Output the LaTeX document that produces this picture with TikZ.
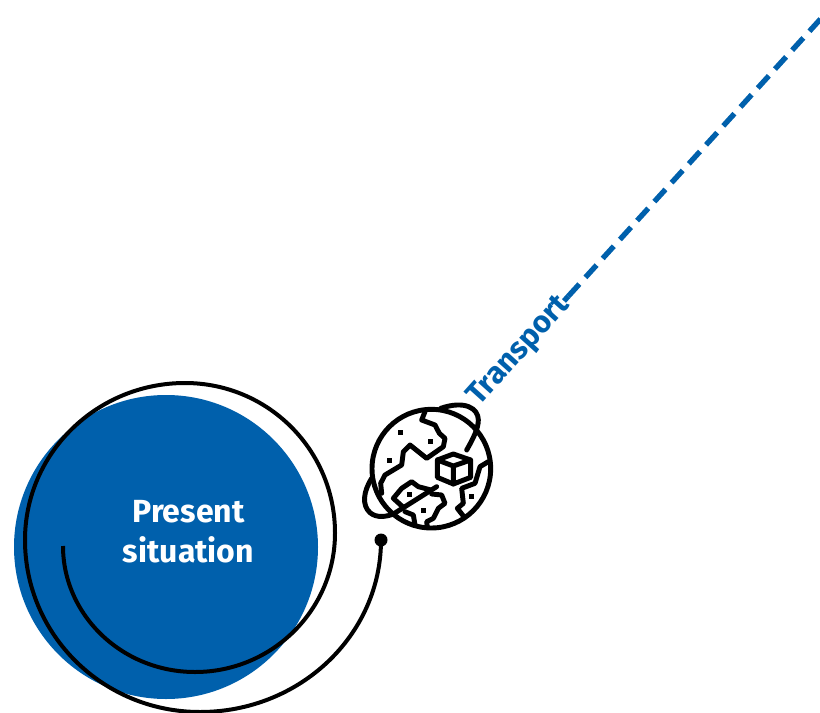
\documentclass[tikz,border=0pt]{standalone}
\usepackage{fontspec}
\setmainfont{Fira Sans}
\definecolor{brandblue}{HTML}{0060AC}
\tikzset{
  px/.style={x=0.75pt,y=-0.75pt},
  ink/.style={draw=black,line width=3.7pt,line join=round,line cap=round},
  speck/.style={fill=black,draw=none},
  dashline/.style={draw=brandblue,line width=4pt,dash pattern=on 12.4pt off 6.8pt},
  stubline/.style={draw=brandblue,line width=4pt},
  whitelabel/.style={text=white,font=\bfseries\fontsize{24}{30}\selectfont,align=center},
  bluelabel/.style={text=brandblue,font=\bfseries\fontsize{23}{25}\selectfont}
}
\begin{document}
\begin{tikzpicture}[px]
\useasboundingbox (0,0) rectangle (820,713);
\fill[brandblue] (166,547) circle [radius=152];
\node[whitelabel] (present) at (188.5,532) {Present\\situation};
% spiral
\coordinate (spiralstart) at (63,546);
\coordinate (bullet) at (381,540);
\draw[draw=black,line width=3pt]
  (spiralstart) .. controls (63,615) and (122,672) .. (195,672)
  .. controls (272,672) and (335,610) .. (335,533)
  .. controls (335,450) and (268,383) .. (185,383)
  .. controls (97,383) and (25,453) .. (25,540)
  .. controls (25,635) and (103,712) .. (200,712)
  .. controls (300,712) and (381,635) .. (bullet);
\fill[black] (bullet) circle [radius=6.5];
% dashed route and label
\coordinate (routestub) at (564,301);
\coordinate (routestart) at (568.2,296.3);
\coordinate (routeend) at (826,13);
\draw[stubline] (routestub) -- (routestart);
\draw[dashline] (routestart) -- (routeend);
\node[bluelabel,rotate=48,anchor=base] (transport) at (525,356) {Transport};
% globe
\begin{scope}[shift={(350,390)},x=0.25pt,y=-0.25pt]
  \draw[ink] (244,236) circle [radius=178];
  % ring
  \draw[ink] (350,180) .. controls (370,145) and (385,115) .. (385,90)
     .. controls (385,55) and (345,30) .. (272,55);
  \draw[ink] (65,265) .. controls (40,305) and (35,345) .. (60,368)
     .. controls (80,385) and (110,380) .. (130,372) -- (260,290);
  % continents
  \draw[ink] (225,65) -- (215,90) -- (255,105) -- (268,130) -- (285,145) -- (280,170)
     -- (230,205) -- (180,165) -- (160,185) -- (155,225) -- (105,255) -- (92,280) -- (95,310);
  \draw[ink] (243,300) -- (205,290) -- (185,275) -- (155,295) -- (130,325) -- (160,352);
  \draw[ink] (245,312) -- (275,315) -- (285,340) -- (265,355) -- (250,385) -- (230,395) -- (232,412);
  \draw[ink] (165,365) -- (190,375) -- (195,405);
  \draw[ink] (415,215) -- (390,230) -- (375,280) -- (335,295) -- (340,340) -- (322,355) -- (340,378);
  % parcel
  \draw[ink] (310,192) -- (362,210) -- (362,262) -- (310,282) -- (262,262) -- (262,210) -- cycle;
  \draw[ink] (262,210) -- (310,228) -- (362,210) (310,228) -- (310,282);
  % specks
  \foreach \sx/\sy in {152/127,241/154,119/211,178/313,221/361,365/319}
    \fill[speck] (\sx-8,\sy-8) rectangle (\sx+8,\sy+8);
\end{scope}
\end{tikzpicture}
\end{document}
